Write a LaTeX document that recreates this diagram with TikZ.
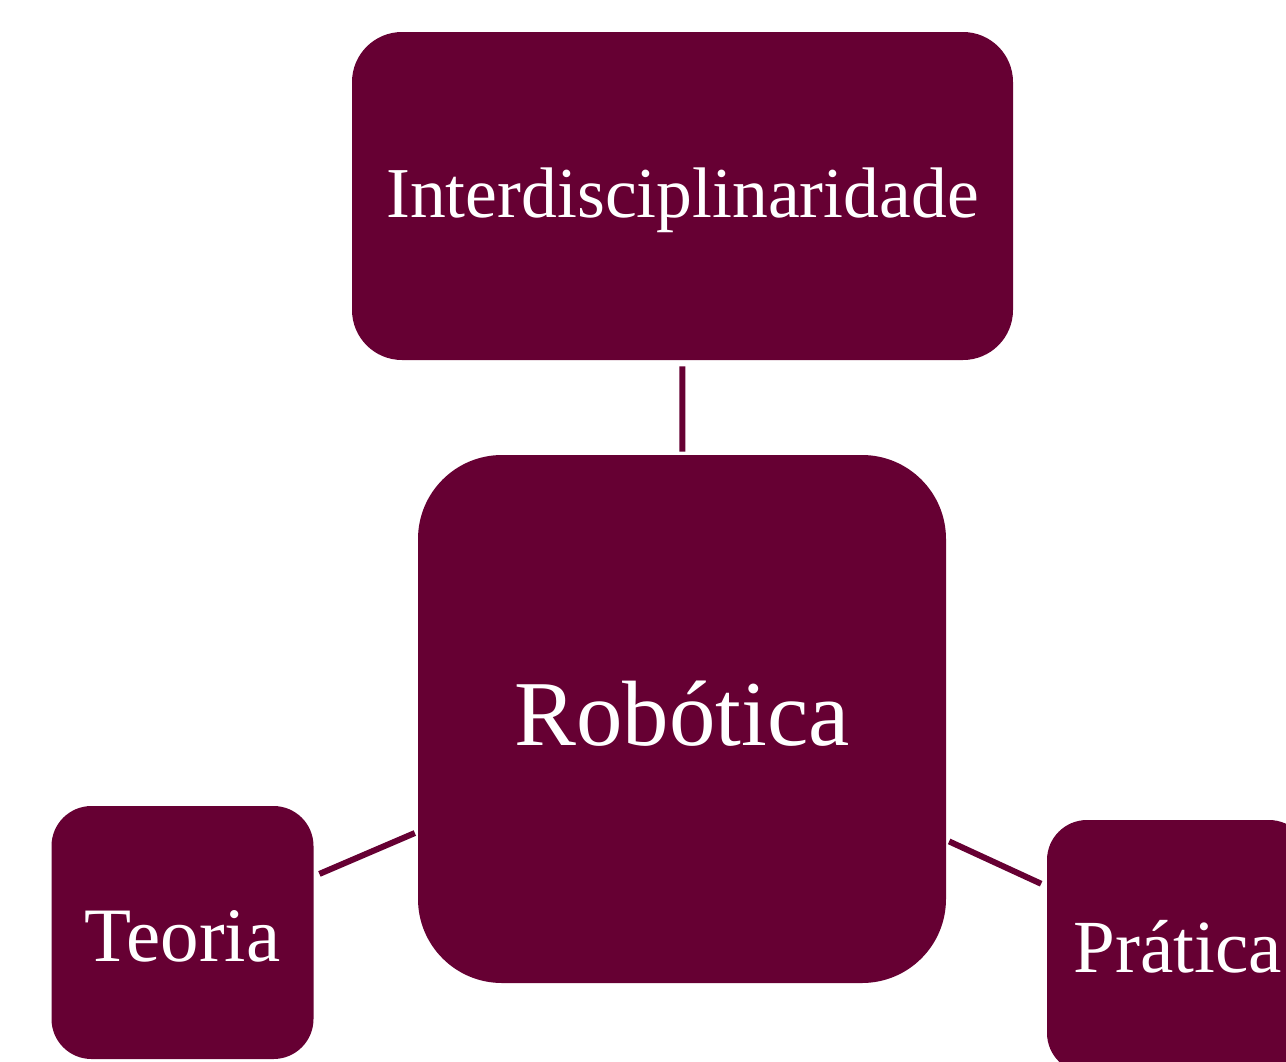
\documentclass[tikz,border=0pt]{standalone}
\usepackage{fontspec}
\setmainfont{Liberation Serif}
\usepackage{tikz}
\usetikzlibrary{positioning}
\definecolor{wine}{HTML}{660033}

\begin{document}
\begin{tikzpicture}[x=0.5pt,y=-0.5pt,
  box/.style={fill=wine,text=white,rounded corners=#1,inner sep=0pt,text depth=0pt},
  link/.style={draw=wine,line width=3pt,shorten <=3pt,shorten >=1.5pt}]
\useasboundingbox (0,0) rectangle (1286,1061);
\clip (0,0) rectangle (1286,1061);
\node[box=25pt,minimum width=330.5pt,minimum height=164pt,text height=21pt,font=\fontsize{35.8}{40}\selectfont] (inter) at (682.5,196) {Interdisciplinaridade};
\node[box=42pt,minimum width=264pt,minimum height=264pt,text height=26pt,font=\fontsize{46.4}{52}\selectfont] (robo) at (682,719) {Robótica};
\node[box=20pt,minimum width=131pt,minimum height=126.5pt,text height=29pt,font=\fontsize{38.5}{44}\selectfont] (teoria) at (182.5,932.5) {Teoria};
\node[box=20pt,minimum width=131pt,minimum height=126.5pt,text height=25.5pt,font=\fontsize{37.5}{44}\selectfont] (pratica) at (1178,946.5) {Prática};
\draw[link] (inter) -- (robo);
\draw[link] (teoria) -- (robo);
\draw[link] (pratica) -- (robo);
\end{tikzpicture}
\end{document}
